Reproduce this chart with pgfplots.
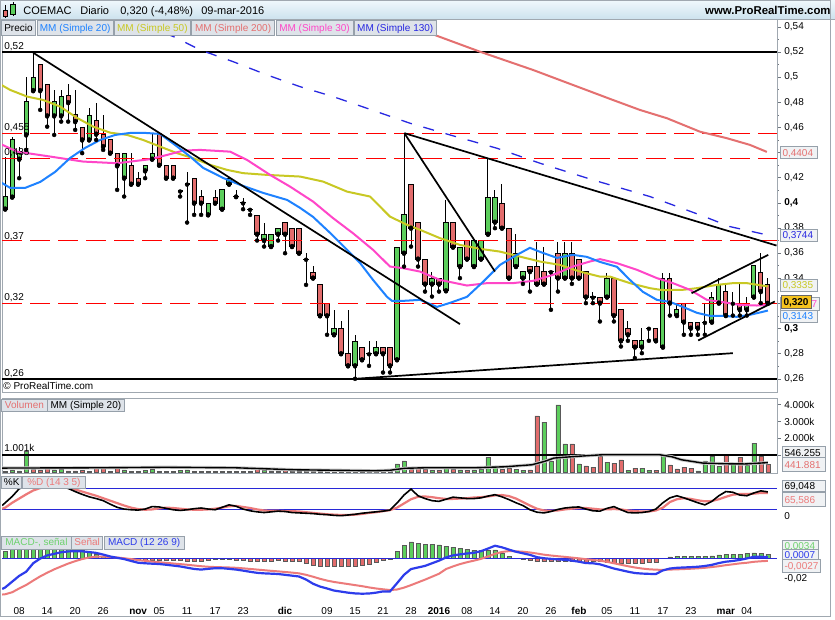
\documentclass[border=0pt]{standalone}
\usepackage{fontspec}
\setmainfont{Liberation Sans}
\usepackage{pgfplots}
\usepackage{pgfplotstable}
\pgfplotsset{compat=1.18}
\usepgfplotslibrary{fillbetween}

\definecolor{cgreen}{RGB}{92,206,92}
\definecolor{cred}{RGB}{226,108,108}
\definecolor{mm20}{RGB}{30,130,255}
\definecolor{mm50}{RGB}{200,200,35}
\definecolor{mm200}{RGB}{228,112,112}
\definecolor{mm30}{RGB}{255,70,200}
\definecolor{mm130}{RGB}{40,40,225}
\definecolor{stD}{RGB}{236,122,122}
\definecolor{lav}{RGB}{178,178,214}
\definecolor{pinkf}{RGB}{246,192,192}
\definecolor{lvl}{RGB}{40,40,215}
\definecolor{macdB}{RGB}{45,60,235}
\definecolor{macdG}{RGB}{110,210,110}
\definecolor{gfill}{RGB}{175,232,175}
\definecolor{framegray}{RGB}{160,168,176}
\definecolor{tickgray}{RGB}{110,118,126}
\definecolor{boxline}{RGB}{150,160,170}
\definecolor{boxbg}{RGB}{240,242,244}
\definecolor{lgbg}{RGB}{222,227,233}
\definecolor{hdtop}{RGB}{240,248,252}
\definecolor{hdbot}{RGB}{205,226,238}
\definecolor{gold}{RGB}{245,195,30}

% candles: i low high body-bottom body-top
\pgfplotstableread{
i l h lo hi
0 0.3950 0.4365 0.3950 0.4050
1 0.4045 0.4520 0.4045 0.4500
2 0.4196 0.4447 0.4347 0.4395
3 0.4421 0.5004 0.4540 0.4805
4 0.4892 0.5194 0.4892 0.4999
7 0.4540 0.4898 0.4691 0.4805
8 0.4646 0.4898 0.4691 0.4845
12 0.4500 0.4752 0.4500 0.4691
17 0.4050 0.4395 0.4196 0.4395
20 0.4196 0.4299 0.4254 0.4299
21 0.4347 0.4554 0.4347 0.4395
29 0.3904 0.3997 0.3904 0.3997
31 0.3949 0.4103 0.3949 0.4103
32 0.4148 0.4196 0.4148 0.4196
37 0.3652 0.3843 0.3700 0.3750
38 0.3652 0.3750 0.3652 0.3750
39 0.3700 0.3798 0.3750 0.3798
47 0.2950 0.3149 0.2950 0.3003
50 0.2600 0.2950 0.2703 0.2897
53 0.2799 0.2897 0.2799 0.2852
56 0.2751 0.3647 0.2751 0.3647
57 0.3493 0.4550 0.3599 0.3904
61 0.3254 0.3453 0.3353 0.3401
63 0.3300 0.4023 0.3300 0.3846
65 0.3401 0.3647 0.3493 0.3647
67 0.3493 0.3697 0.3493 0.3697
68 0.3552 0.3697 0.3552 0.3697
69 0.3750 0.4347 0.3750 0.4045
70 0.3798 0.4103 0.3846 0.4045
73 0.3493 0.3750 0.3493 0.3599
74 0.3355 0.3453 0.3401 0.3453
80 0.3401 0.3692 0.3401 0.3599
86 0.3250 0.3445 0.3250 0.3401
91 0.2804 0.3003 0.2852 0.2902
94 0.2852 0.3445 0.2852 0.3401
96 0.3103 0.3202 0.3103 0.3149
101 0.3051 0.3294 0.3051 0.3250
102 0.3202 0.3401 0.3202 0.3353
106 0.3103 0.3250 0.3149 0.3202
107 0.3250 0.3498 0.3250 0.3498
}\gc

\pgfplotstableread{
i l h lo hi
5 0.4739 0.5097 0.4892 0.5097
6 0.4606 0.4943 0.4691 0.4943
9 0.4646 0.4943 0.4797 0.4850
10 0.4580 0.4898 0.4646 0.4699
11 0.4395 0.4601 0.4500 0.4601
13 0.4500 0.4797 0.4546 0.4651
14 0.4421 0.4699 0.4447 0.4546
15 0.4395 0.4500 0.4395 0.4500
16 0.4103 0.4395 0.4294 0.4395
18 0.4148 0.4395 0.4148 0.4294
19 0.4148 0.4248 0.4148 0.4196
22 0.4299 0.4554 0.4299 0.4540
23 0.4196 0.4299 0.4196 0.4299
24 0.4196 0.4299 0.4196 0.4299
27 0.3904 0.4196 0.3997 0.4196
28 0.3904 0.4103 0.3997 0.4050
30 0.3997 0.4103 0.3997 0.4042
36 0.3700 0.3898 0.3750 0.3898
40 0.3599 0.3846 0.3750 0.3846
41 0.3652 0.3798 0.3652 0.3798
42 0.3599 0.3798 0.3599 0.3798
44 0.3401 0.3498 0.3401 0.3448
45 0.3101 0.3353 0.3101 0.3353
46 0.2950 0.3202 0.3101 0.3202
48 0.2799 0.3056 0.2799 0.3003
49 0.2703 0.3149 0.2703 0.2799
51 0.2751 0.2852 0.2751 0.2852
54 0.2650 0.2852 0.2799 0.2852
55 0.2650 0.2852 0.2703 0.2852
58 0.3652 0.4148 0.3798 0.4148
59 0.3493 0.3846 0.3552 0.3846
60 0.3294 0.3552 0.3353 0.3552
62 0.3294 0.3401 0.3353 0.3401
64 0.3647 0.3846 0.3647 0.3846
66 0.3552 0.3697 0.3552 0.3697
71 0.3798 0.4148 0.3798 0.3997
72 0.3401 0.3798 0.3401 0.3798
75 0.3294 0.3493 0.3453 0.3493
76 0.3353 0.3692 0.3353 0.3493
77 0.3353 0.3647 0.3353 0.3453
79 0.3294 0.3692 0.3401 0.3599
81 0.3355 0.3692 0.3401 0.3599
82 0.3401 0.3552 0.3401 0.3552
83 0.3202 0.3453 0.3250 0.3453
85 0.3056 0.3250 0.3202 0.3250
87 0.3056 0.3401 0.3103 0.3401
88 0.2857 0.3149 0.2902 0.3149
89 0.2902 0.3056 0.2950 0.3003
90 0.2765 0.2902 0.2852 0.2902
93 0.2902 0.3003 0.2902 0.3003
95 0.3103 0.3445 0.3202 0.3401
97 0.2950 0.3202 0.3051 0.3202
98 0.2950 0.3051 0.3003 0.3051
99 0.2950 0.3051 0.3003 0.3051
103 0.3103 0.3353 0.3103 0.3294
105 0.3103 0.3353 0.3149 0.3202
108 0.3202 0.3599 0.3294 0.3445
109 0.3200 0.3401 0.3200 0.3353
}\rc

\pgfplotstableread{
i l h lo hi
25 0.4050 0.4095 0.4095 0.4095
26 0.3843 0.4248 0.4150 0.4150
33 0.4050 0.4103 0.4050 0.4050
34 0.3949 0.4042 0.4000 0.4000
35 0.3904 0.3949 0.3949 0.3949
43 0.3347 0.3599 0.3552 0.3552
52 0.2703 0.2897 0.2800 0.2800
78 0.3149 0.3453 0.3453 0.3453
84 0.3202 0.3294 0.3250 0.3250
92 0.2902 0.3003 0.3003 0.3003
100 0.2950 0.3202 0.3050 0.3050
104 0.3103 0.3294 0.3202 0.3202
}\dc

% volume (thousands): green / red
\pgfplotstableread{
i g r
0 30 nan
1 120 nan
2 60 nan
3 1210 nan
4 nan 160
5 nan 120
6 nan 280
7 120 nan
8 160 nan
9 nan 60
10 nan 60
11 nan 70
12 40 nan
13 nan 220
14 nan 220
15 nan 20
16 nan 280
17 120 nan
18 nan 20
19 nan 30
20 80 nan
21 160 nan
22 nan 40
23 nan 20
24 nan 30
25 80 nan
26 120 nan
27 nan 40
28 nan 30
29 20 nan
30 40 nan
31 40 nan
32 20 nan
33 30 nan
34 nan 30
35 nan 20
36 nan 160
37 80 nan
38 20 nan
39 20 nan
40 nan 80
41 nan 20
42 nan 20
43 20 nan
44 nan 40
45 nan 20
46 nan 20
47 30 nan
48 nan 40
49 nan 20
50 40 nan
51 nan 30
52 30 nan
53 30 nan
54 nan 40
55 nan 60
56 478 nan
57 657 nan
58 nan 180
59 nan 280
60 nan 150
61 100 nan
62 nan 80
63 200 nan
64 nan 150
65 120 nan
66 nan 100
67 120 nan
68 150 nan
69 854 nan
70 280 nan
71 nan 150
72 nan 200
73 150 nan
74 100 nan
75 nan 120
76 nan 3343
77 2967 nan
78 600 nan
79 4000 nan
80 1672 nan
81 nan 1672
82 478 nan
83 nan 358
84 nan 280
85 nan 915
86 577 nan
87 nan 517
88 nan 716
89 80 nan
90 nan 219
91 219 nan
92 80 nan
93 nan 80
94 915 nan
95 nan 418
96 nan 180
97 nan 280
98 nan 220
99 60 nan
100 657 nan
101 915 nan
102 318 nan
103 nan 1015
104 478 nan
105 nan 855
106 378 nan
107 1713 nan
108 nan 915
109 nan 442
}\vol

% oscillators: stochastic %K %D, MACD, signal, histogram
\pgfplotstableread{
i k d m s h
-0.43 30 21 -0.0295 -0.0348 0
0 38 24 -0.0280 -0.0345 0.0065
1 56 38 -0.0225 -0.0326 0.0101
2 78 50 -0.0170 -0.0290 0.0120
3 85 62 -0.0130 -0.0257 0.0127
4 89 73 -0.0050 -0.0215 0.0165
5 90 80 -0.0005 -0.0175 0.0170
6 90 84 0.0025 -0.0140 0.0165
7 88 85 0.0040 -0.0108 0.0148
8 84 84 0.0055 -0.0080 0.0135
9 79 81 0.0063 -0.0053 0.0116
10 70 76 0.0065 -0.0030 0.0095
11 62 70 0.0064 -0.0010 0.0074
12 55 64 0.0057 0.0005 0.0052
13 50 58 0.0049 0.0013 0.0036
14 44 51 0.0033 0.0014 0.0019
15 34 44 0.0015 0.0010 0.0005
16 25 37 0.0002 0.0005 -0.0003
17 20 30 -0.0010 -0.0002 -0.0008
18 18 24 -0.0028 -0.0010 -0.0018
19 17 20 -0.0045 -0.0020 -0.0025
20 20 18 -0.0050 -0.0027 -0.0023
21 27 19 -0.0054 -0.0034 -0.0020
22 26 22 -0.0057 -0.0040 -0.0017
23 22 24 -0.0064 -0.0046 -0.0018
24 18 23 -0.0072 -0.0052 -0.0020
25 16 21 -0.0080 -0.0058 -0.0022
26 18 19 -0.0092 -0.0064 -0.0028
27 21 18 -0.0104 -0.0071 -0.0033
28 23 18 -0.0110 -0.0078 -0.0032
29 20 19 -0.0103 -0.0083 -0.0020
30 18 21 -0.0097 -0.0086 -0.0011
31 25 24 -0.0097 -0.0088 -0.0009
32 32 28 -0.0103 -0.0090 -0.0013
33 28 29 -0.0110 -0.0093 -0.0017
34 20 26 -0.0120 -0.0098 -0.0022
35 15 23 -0.0131 -0.0104 -0.0027
36 12 19 -0.0141 -0.0110 -0.0031
37 10 16 -0.0146 -0.0116 -0.0030
38 12 15 -0.0149 -0.0122 -0.0027
39 14 15 -0.0152 -0.0127 -0.0025
40 13 14 -0.0160 -0.0133 -0.0027
41 10 14 -0.0168 -0.0139 -0.0029
42 9 13 -0.0176 -0.0146 -0.0030
43 8 11 -0.0205 -0.0160 -0.0045
44 7 9 -0.0245 -0.0178 -0.0067
45 5 7 -0.0272 -0.0198 -0.0074
46 4 5 -0.0290 -0.0215 -0.0075
47 2 4 -0.0310 -0.0228 -0.0082
48 1 3 -0.0320 -0.0238 -0.0082
49 3 3 -0.0330 -0.0248 -0.0082
50 5 4 -0.0337 -0.0258 -0.0079
51 8 6 -0.0340 -0.0268 -0.0072
52 10 9 -0.0338 -0.0280 -0.0058
53 12 11 -0.0330 -0.0290 -0.0040
54 14 14 -0.0318 -0.0298 -0.0020
55 17 17 -0.0318 -0.0305 -0.0013
56 37 24 -0.0240 -0.0300 0.0060
57 60 36 -0.0160 -0.0282 0.0122
58 77 48 -0.0105 -0.0258 0.0153
59 58 55 -0.0090 -0.0232 0.0142
60 50 56 -0.0075 -0.0206 0.0131
61 44 54 -0.0050 -0.0178 0.0128
62 42 51 -0.0025 -0.0150 0.0125
63 48 49 0.0005 -0.0105 0.0110
64 54 49 0.0025 -0.0080 0.0105
65 52 50 0.0035 -0.0058 0.0093
66 50 51 0.0043 -0.0040 0.0083
67 50 53 0.0050 -0.0025 0.0075
68 52 54 0.0065 -0.0008 0.0073
69 57 56 0.0090 0.0015 0.0075
70 61 59 0.0117 0.0040 0.0077
71 55 60 0.0102 0.0058 0.0044
72 47 57 0.0080 0.0066 0.0014
73 38 50 0.0060 0.0064 -0.0004
74 30 40 0.0045 0.0060 -0.0015
75 18 30 0.0030 0.0053 -0.0023
76 11 21 0.0008 0.0043 -0.0035
77 9 16 -0.0002 0.0032 -0.0034
78 13 15 -0.0008 0.0024 -0.0032
79 19 16 -0.0013 0.0017 -0.0030
80 23 19 -0.0017 0.0011 -0.0028
81 25 21 -0.0025 0.0004 -0.0029
82 26 23 -0.0035 -0.0003 -0.0032
83 20 23 -0.0048 -0.0011 -0.0037
84 15 21 -0.0050 -0.0018 -0.0032
85 14 19 -0.0060 -0.0025 -0.0035
86 22 19 -0.0080 -0.0036 -0.0044
87 27 20 -0.0100 -0.0050 -0.0050
88 18 19 -0.0115 -0.0064 -0.0051
89 10 16 -0.0130 -0.0078 -0.0052
90 9 14 -0.0143 -0.0090 -0.0053
91 10 13 -0.0148 -0.0100 -0.0048
92 13 13 -0.0151 -0.0107 -0.0044
93 20 16 -0.0152 -0.0111 -0.0041
94 38 24 -0.0118 -0.0113 -0.0005
95 52 40 -0.0100 -0.0110 0.0010
96 58 48 -0.0093 -0.0108 0.0015
97 52 51 -0.0090 -0.0105 0.0015
98 45 49 -0.0087 -0.0102 0.0015
99 38 45 -0.0083 -0.0098 0.0015
100 32 42 -0.0076 -0.0093 0.0017
101 42 43 -0.0065 -0.0086 0.0021
102 58 48 -0.0048 -0.0078 0.0030
103 70 55 -0.0035 -0.0068 0.0033
104 68 61 -0.0028 -0.0060 0.0032
105 60 63 -0.0018 -0.0051 0.0033
106 58 63 -0.0004 -0.0045 0.0041
107 66 64 0.0012 -0.0036 0.0048
108 72 66 0.0012 -0.0031 0.0043
109 69 66 0.0007 -0.0027 0.0034
}\osc

\pgfplotsset{
  panel/.style={scale only axis, width=775pt, xmin=-0.4286, xmax=110.2857,
    axis line style={draw=framegray}, xtick=\empty, scaled y ticks=false,
    ytick pos=right, yticklabel pos=right, tick align=outside,
    major tick length=4pt, minor tick length=2pt,
    tick style={draw=tickgray, line width=0.6pt},
    tick label style={font=\fontsize{10}{12}\selectfont},
    yticklabel style={anchor=west}},
  wick/.style={only marks, mark=none, forget plot,
    error bars/.cd, y dir=plus, y explicit, error mark=none,
    error bar style={black, line width=1pt}},
  body/.style 2 args={only marks, mark=none, forget plot,
    error bars/.cd, y dir=plus, y explicit, error mark=none,
    error bar style={#1, line width=#2}},
  vbar/.style={ybar, bar width=4pt, bar shift=0pt, draw=black!65, line width=0.5pt, fill=#1},
  level/.style={color={rgb,255:red,255;green,0;blue,0}, line width=1.1pt, dash pattern=on 20pt off 8pt},
}

\newcommand{\lgbox}[5]{%
  \draw[draw=boxline, fill=lgbg, line width=0.6pt] (#1,620-#3) rectangle (#2,620-#4);
  \node[anchor=base, inner sep=0pt] at ({(#1+#2)/2},{620-#4+3.4}) {#5};}
\newcommand{\valbox}[6]{%
  \draw[draw=boxline, fill=boxbg, line width=0.6pt] (#1,620-#3) rectangle (#2,620-#4);
  \node[anchor=base west, inner sep=0pt, text=#5] at ({#1+2.5},{620-(#3+#4)/2-3.6}) {#6};}

\begin{document}
\begin{tikzpicture}[x=1pt, y=1pt, font=\fontsize{10}{12}\selectfont]
\fill[white] (0,0) rectangle (835,620);

% ---------------- price panel
\begin{axis}[panel, at={(2pt,601pt)}, anchor=north west, height=373pt,
  ymin=0.24966, ymax=0.54624,
  ytick={0.26,0.28,0.30,0.32,0.34,0.36,0.38,0.40,0.42,0.44,0.46,0.48,0.50,0.52,0.54},
  yticklabels={{0,26},{0,28},{\bfseries 0,3},{},{0,34},{0,36},{0,38},{\bfseries 0,4},{0,42},{},{0,46},{0,48},{0,5},{0,52},{0,54}},
  minor ytick={0.27,0.29,0.31,0.33,0.35,0.37,0.39,0.41,0.43,0.45,0.47,0.49,0.51,0.53}]
\addplot[black, line width=2.6pt] coordinates {(-0.43,0.52) (110.3,0.52)};
\addplot[black, line width=2.6pt] coordinates {(-0.43,0.26) (110.3,0.26)};
% candles
\addplot[wick] table[x=i, y=l, y error plus expr=\thisrow{h}-\thisrow{l}] {\gc};
\addplot[wick] table[x=i, y=l, y error plus expr=\thisrow{h}-\thisrow{l}] {\rc};
\addplot[wick] table[x=i, y=l, y error plus expr=\thisrow{h}-\thisrow{l}] {\dc};
\addplot[body={black}{5.2pt}] table[x=i, y expr=\thisrow{lo}-0.0004, y error plus expr=\thisrow{hi}-\thisrow{lo}+0.0008] {\gc};
\addplot[body={black}{5.2pt}] table[x=i, y expr=\thisrow{lo}-0.0004, y error plus expr=\thisrow{hi}-\thisrow{lo}+0.0008] {\rc};
\addplot[body={black}{5.2pt}] table[x=i, y expr=\thisrow{lo}-0.0005, y error plus expr=0.001] {\dc};
\addplot[body={cgreen}{3.2pt}] table[x=i, y expr=\thisrow{lo}+0.0004, y error plus expr={max(\thisrow{hi}-\thisrow{lo}-0.0008,0)}] {\gc};
\addplot[body={cred}{3.2pt}] table[x=i, y expr=\thisrow{lo}+0.0004, y error plus expr={max(\thisrow{hi}-\thisrow{lo}-0.0008,0)}] {\rc};
% support / resistance levels
\addplot[level] coordinates {(-0.43,0.455) (110.3,0.455)};
\addplot[level] coordinates {(-0.43,0.435) (110.3,0.435)};
\addplot[level] coordinates {(-0.43,0.37) (110.3,0.37)};
\addplot[level] coordinates {(-0.43,0.32) (110.3,0.32)};
% moving averages
\addplot[mm130, line width=1.3pt, dash pattern=on 11pt off 12pt] coordinates {(13.57,0.555) (24.29,0.5317) (27.86,0.5216) (32.57,0.5123) (37.43,0.5017) (42.14,0.4924) (46.86,0.4845) (51.71,0.4752) (57.86,0.4633) (63.57,0.454) (70.29,0.4434) (76.43,0.4315) (84,0.4182) (92.14,0.405) (99.29,0.3904) (103.57,0.3811) (108.86,0.3745)};
\addplot[mm200, line width=2pt] coordinates {(53.57,0.5494) (60.71,0.5349) (67.86,0.5202) (75.43,0.5057) (86.86,0.4818) (90.71,0.4739) (94.57,0.4673) (99.29,0.4566) (103.14,0.4514) (106.43,0.4461) (108.86,0.4405)};
\addplot[mm50, line width=2pt] coordinates {(-0.71,0.4943) (0.71,0.4898) (3.14,0.4845) (5.43,0.4818) (7.86,0.4765) (10.29,0.4675) (12.57,0.4606) (15,0.4558) (17.43,0.454) (19.71,0.45) (22.14,0.4447) (24.57,0.4395) (26.86,0.4355) (29.29,0.4302) (31.71,0.4262) (34,0.4236) (37.43,0.4222) (42.14,0.4209) (45.43,0.4169) (48.86,0.4089) (52.14,0.405) (55,0.389) (57.43,0.3825) (59.29,0.3785) (62.14,0.3719) (65,0.3665) (67.86,0.3634) (70.71,0.3612) (73.57,0.3572) (76.43,0.3533) (79.29,0.3506) (82.14,0.3453) (85,0.3413) (86.43,0.3413) (89.29,0.3361) (92.14,0.3321) (94,0.3305) (96.86,0.3308) (98.86,0.3321) (101.71,0.3347) (104,0.3361) (106,0.3361) (109,0.3335)};
\addplot[mm30, line width=2pt] coordinates {(-0.71,0.4469) (1.71,0.4407) (6.43,0.4368) (11.14,0.4328) (16,0.4315) (20.71,0.4347) (23.14,0.4381) (25.43,0.4415) (27.86,0.4421) (32.14,0.4407) (34.57,0.4341) (37.86,0.4222) (40.71,0.4129) (44,0.401) (46.86,0.3878) (49.71,0.3758) (52.57,0.3626) (55,0.3493) (56.86,0.348) (59.29,0.3453) (62.14,0.3387) (66,0.3342) (68.86,0.3361) (72.57,0.3361) (75.43,0.3379) (78.29,0.3427) (81.14,0.3493) (83.57,0.3533) (85,0.3552) (87.43,0.352) (90.29,0.3467) (93.14,0.3401) (95.43,0.3361) (97.86,0.3308) (100.29,0.3228) (102.57,0.321) (105,0.3188) (107.43,0.3183) (109,0.3188)};
\addplot[mm20, line width=2pt] coordinates {(-0.71,0.4166) (0.71,0.4119) (2.86,0.4119) (5,0.4166) (7.14,0.4246) (9.29,0.4357) (11.43,0.4437) (13.57,0.45) (15.71,0.454) (17.86,0.4556) (20,0.4556) (22.14,0.4548) (24.29,0.446) (26.43,0.4368) (28.29,0.4278) (31.14,0.4198) (33.57,0.4143) (36.86,0.4079) (40.29,0.4023) (42.14,0.396) (44,0.3888) (46.43,0.3761) (48.86,0.3626) (50.71,0.3522) (52.57,0.3387) (54.57,0.3252) (55.29,0.322) (56.86,0.322) (59.29,0.3228) (61.71,0.3172) (63.57,0.3204) (66,0.3252) (68.29,0.3371) (70.71,0.3506) (73.14,0.3586) (75,0.3642) (76.43,0.361) (78.86,0.3562) (81.14,0.3586) (83.14,0.357) (85,0.353) (87.43,0.3491) (89.29,0.3387) (91.14,0.3292) (93.14,0.3228) (95,0.3212) (96.86,0.3172) (98.86,0.3125) (100.71,0.3101) (102.57,0.3101) (104.57,0.3093) (106.43,0.3109) (108.29,0.3133) (109,0.3143)};
% trend lines
\addplot[black, line width=1.7pt] coordinates {(4,0.5194) (65,0.3035)};
\addplot[black, line width=1.7pt] coordinates {(57.05,0.4554) (70,0.3453)};
\addplot[black, line width=1.7pt] coordinates {(57.05,0.4554) (110.24,0.366)};
\addplot[black, line width=1.7pt] coordinates {(50,0.26) (104,0.2804)};
\addplot[black, line width=1.7pt] coordinates {(98.1,0.3281) (109.05,0.3586)};
\addplot[black, line width=1.7pt] coordinates {(99.05,0.2905) (110,0.3215)};
\end{axis}

% ---------------- volume panel
\begin{axis}[panel, at={(2pt,222pt)}, anchor=north west, height=75pt,
  ymin=-59.7, ymax=4418, ytick={1000,2000,3000,4000}, yticklabels={{},2.000k,3.000k,4.000k}]
\addplot[vbar=cgreen] table[x=i, y=g] {\vol};
\addplot[vbar=cred] table[x=i, y=r] {\vol};
\addplot[black, line width=2.6pt] coordinates {(-0.43,1001) (110.3,1001)};
\addplot[gray!45, line width=3.2pt] coordinates {(-0.43,221) (13.57,239) (22.86,269) (32.86,239) (41.43,119) (52.86,60) (55,90) (57.14,209) (60,239) (67.14,239) (71.43,299) (75.29,418) (77.14,627) (78.43,818) (81.43,913) (85.29,1015) (93.57,1015) (95.29,896) (96.66,716) (99.71,519) (102.86,478) (105.71,466) (109,546)};
\addplot[black, line width=1.4pt] coordinates {(-0.43,221) (13.57,239) (22.86,269) (32.86,239) (41.43,119) (52.86,60) (55,90) (57.14,209) (60,239) (67.14,239) (71.43,299) (75.29,418) (77.14,627) (78.43,818) (81.43,913) (85.29,1015) (93.57,1015) (95.29,896) (96.66,716) (99.71,519) (102.86,478) (105.71,466) (109,546)};
\end{axis}

% ---------------- stochastic panel
\begin{axis}[panel, at={(2pt,145pt)}, anchor=north west, height=57.7pt,
  ymin=-46.86, ymax=118, ytick={0}, yticklabels={0}]
\addplot[draw=none, name path=K, forget plot] table[x=i, y=k] {\osc};
\addplot[draw=none, name path=D, forget plot] table[x=i, y=d] {\osc};
\addplot[draw=none, name path=KDmin, forget plot] table[x=i, y expr={min(\thisrow{k},\thisrow{d})}] {\osc};
\addplot[lav, draw=none] fill between[of=K and KDmin];
\addplot[pinkf, draw=none] fill between[of=D and KDmin];
\addplot[lvl, line width=0.9pt] coordinates {(-0.43,80) (110.3,80)};
\addplot[lvl, line width=0.9pt] coordinates {(-0.43,20) (110.3,20)};
\addplot[stD, line width=2.2pt] table[x=i, y=d] {\osc};
\addplot[black, line width=1.6pt] table[x=i, y=k] {\osc};
\end{axis}

% ---------------- MACD panel
\begin{axis}[panel, at={(2pt,85pt)}, anchor=north west, height=62.7pt,
  ymin=-0.03752, ymax=0.02219, ytick={-0.03,-0.02,-0.01,0}, yticklabels={{},{-0,02},{},{}},
  xtick={2,6,10,14,19,22,26,30,34,40,46,50,54,58,62,66,70,74,78,82,86,90,94,98,103,106},
  xticklabels={08,14,20,26,\textbf{nov},05,11,17,23,\textbf{dic},09,15,21,28,\textbf{2016},08,14,20,26,\textbf{feb},05,11,17,23,\textbf{mar},04},
  xtick style={draw=none}, xticklabel style={anchor=base, yshift=-12.8pt}]
\addplot[vbar=cgreen, y filter/.expression={y>0 ? y : nan}] table[x=i, y=h] {\osc};
\addplot[vbar=cred, y filter/.expression={y<0 ? y : nan}] table[x=i, y=h] {\osc};
\addplot[draw=none, name path=M, forget plot] table[x=i, y=m] {\osc};
\addplot[draw=none, name path=S, forget plot] table[x=i, y=s] {\osc};
\addplot[draw=none, name path=MSmin, forget plot] table[x=i, y expr={min(\thisrow{m},\thisrow{s})}] {\osc};
\addplot[gfill, draw=none] fill between[of=M and MSmin];
\addplot[pinkf, draw=none] fill between[of=S and MSmin];
\addplot[lvl, line width=0.9pt] coordinates {(-0.43,0) (110.3,0)};
\addplot[stD, line width=2pt] table[x=i, y=s] {\osc};
\addplot[macdB, line width=2.2pt] table[x=i, y=m] {\osc};
\end{axis}

% ---------------- header
\shade[top color=hdtop, bottom color=hdbot] (0,620) rectangle (835,601);
\draw[framegray] (0,601) -- (835,601);
\draw[black] (5.5,620-5) -- (5.5,620-18);
\draw[black, fill=cred] (3.5,620-10) rectangle (7.5,620-16.5);
\draw[black] (13,620-2.5) -- (13,620-16);
\draw[black, fill=cgreen] (10.5,620-4.5) rectangle (15.5,620-14.5);
\begin{scope}[font=\fontsize{11}{13}\selectfont]
\node[anchor=base west, inner sep=0pt] at (23,605) {COEMAC};
\node[anchor=base west, inner sep=0pt] at (80,605) {Diario};
\node[anchor=base west, inner sep=0pt] at (120,605) {0,320 (-4,48\%)};
\node[anchor=base west, inner sep=0pt] at (201,605) {09-mar-2016};
\end{scope}
\node[anchor=base east, inner sep=0pt, font=\fontsize{11.4}{13}\selectfont\bfseries] at (831,605) {www.ProRealTime.com};

% ---------------- legends
\lgbox{1.5}{35}{20}{35}{Precio}
\lgbox{37}{113}{20}{35}{\color{mm20}MM (Simple 20)}
\lgbox{114.5}{190}{20}{35}{\color{mm50}MM (Simple 50)}
\lgbox{191.5}{274.5}{20}{35}{\color{mm200}MM (Simple 200)}
\lgbox{276}{353}{20}{35}{\color{mm30}MM (Simple 30)}
\lgbox{354.5}{436}{20}{35}{\color{mm130}MM (Simple 130)}
\lgbox{1.5}{47}{399}{412}{\color{mm200}Volumen}
\lgbox{47.5}{124}{399}{412}{MM (Simple 20)}
\lgbox{1.5}{21.5}{476.5}{489}{\%K}
\lgbox{22.5}{85}{476.5}{489}{\color{stD}\%D (14 3 5)}
\lgbox{1.5}{71}{536.5}{549.5}{\color{macdG}MACD-, señal}
\lgbox{71.5}{102.5}{536.5}{549.5}{\color{stD}Señal}
\lgbox{104}{184}{536.5}{549.5}{\color{macdB}MACD (12 26 9)}

% ---------------- level labels on the left
\node[anchor=base west, inner sep=0pt] at (4,620-49.5) {0,52};
\node[anchor=base west, inner sep=0pt] at (4,620-131) {0,455};
\node[anchor=base west, inner sep=0pt] at (4,620-156) {0,435};
\node[anchor=base west, inner sep=0pt] at (4,620-239.5) {0,37};
\node[anchor=base west, inner sep=0pt] at (4,620-301) {0,32};
\node[anchor=base west, inner sep=0pt] at (4,620-376.5) {0,26};
\node[anchor=base west, inner sep=0pt] at (3,620-390) {\textcopyright{} ProRealTime.com};
\node[anchor=base west, inner sep=0pt] at (4,620-452) {1.001k};

% ---------------- value boxes on the right
\valbox{780}{817}{146.5}{158.5}{mm200}{0,4404}
\valbox{780}{817}{229}{241}{mm130}{0,3744}
\valbox{780}{817}{279.5}{291.5}{mm50}{0,3335}
\draw[draw=boxline, fill=boxbg, line width=0.6pt] (780,620-297) rectangle (819,620-310);
\node[anchor=base east, inner sep=0pt, text=mm30] at (817.5,620-307.2) {7};
\draw[draw=black!60, fill=gold, line width=0.6pt] (781.5,620-295) rectangle (811.5,620-308.5);
\node[anchor=base west, inner sep=0pt] at (783.5,620-305.3) {\bfseries 0,320};
\valbox{780}{817}{310.5}{322.5}{mm20}{0,3143}
\valbox{782}{825}{447}{459}{black}{546.255}
\valbox{782}{825}{458}{472}{mm200}{441.881}
\valbox{782}{825}{480.5}{491.5}{black}{69,048}
\valbox{782}{825}{493}{507}{stD}{65,586}
\valbox{782}{818}{540.5}{551}{macdG}{0,0034}
\valbox{782}{818}{550}{560}{macdB}{0,0007}
\valbox{782}{820}{560}{573}{stD}{-0,0027}

% ---------------- outer frame
\draw[framegray] (0.5,3.5) rectangle (830,619.5);
\end{tikzpicture}
\end{document}
